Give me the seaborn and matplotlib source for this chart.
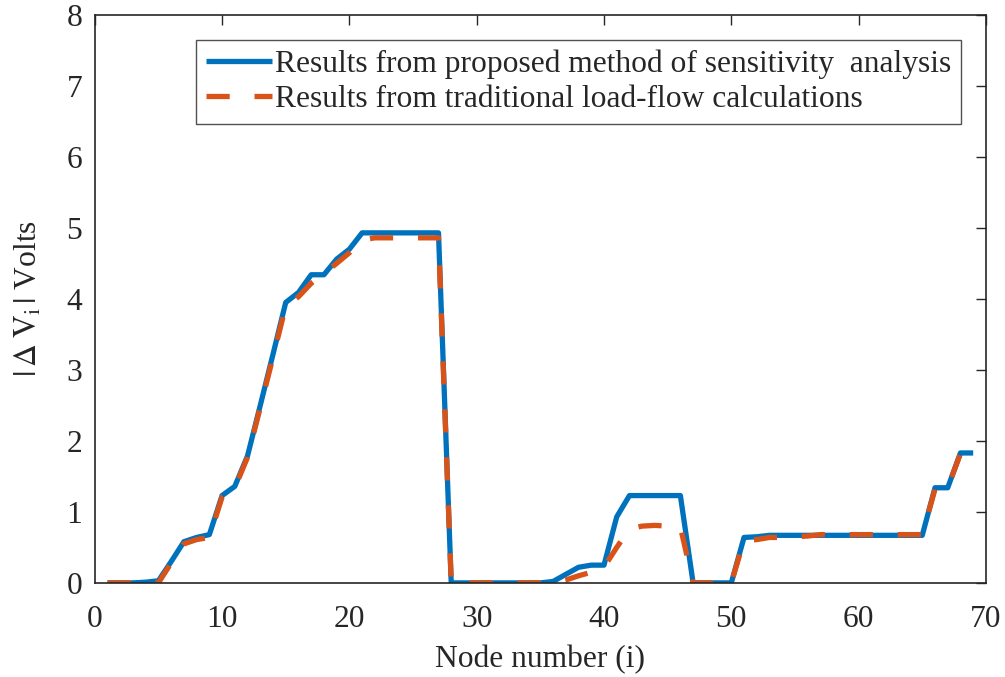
import numpy as np
import pandas as pd
import matplotlib
matplotlib.use("Agg")
import matplotlib.pyplot as plt
import seaborn as sns

# node numbers and |dV| values
nodes = list(range(1, 70))
proposed = [0, 0, 0, 0.01, 0.03, 0.30, 0.58, 0.64, 0.68, 1.23,
            1.36, 1.79, 2.50, 3.22, 3.95, 4.09, 4.34, 4.34, 4.56, 4.70,
            4.93, 4.93, 4.93, 4.93, 4.93, 4.93, 4.93, 0, 0, 0,
            0, 0, 0, 0, 0, 0.02, 0.12, 0.22, 0.25, 0.25,
            0.93, 1.23, 1.23, 1.23, 1.23, 1.23, 0, 0, 0, 0,
            0.64, 0.65, 0.67, 0.67, 0.67, 0.67, 0.67, 0.67, 0.67, 0.67,
            0.67, 0.67, 0.67, 0.67, 0.67, 1.34, 1.34, 1.83, 1.83]
traditional = [0, 0, 0, 0, 0, 0.28, 0.55, 0.61, 0.64, 1.21,
               1.34, 1.77, 2.47, 3.18, 3.90, 4.03, 4.22, 4.36, 4.50, 4.65,
               4.83, 4.86, 4.86, 4.86, 4.86, 4.86, 4.86, 0, 0, 0,
               0, 0, 0, 0, 0, 0, 0.04, 0.10, 0.15, 0.22,
               0.50, 0.76, 0.80, 0.81, 0.80, 0.79, 0, 0, 0, 0,
               0.60, 0.61, 0.64, 0.64, 0.65, 0.66, 0.68, 0.68, 0.68, 0.68,
               0.68, 0.68, 0.68, 0.68, 0.68, 1.32, 1.34, 1.82, 1.82]
lbl_prop = "Results from proposed method of sensitivity  analysis"
lbl_trad = "Results from traditional load-flow calculations"

df = pd.DataFrame({"node": nodes, "prop": proposed, "trad": traditional})

sns.set_style("white")
plt.rcParams["font.family"] = ["Liberation Serif", "DejaVu Serif"]
plt.rcParams["mathtext.fontset"] = "stix"

fs = 22.7
fig = plt.figure(figsize=(10.05, 6.77), dpi=100)
ax = fig.add_axes([0.0943, 0.139, 0.8867, 0.839])

sns.lineplot(data=df, x="node", y="prop", ax=ax, color="#0072BD", lw=3.8,
             label=lbl_prop, solid_joinstyle="round", solid_capstyle="butt")
sns.lineplot(data=df, x="node", y="trad", ax=ax, color="#D95319", lw=3.8,
             label=lbl_trad, dashes=False)
ax.lines[1].set_dashes((4.4, 4.7))

ax.set_xlim(0, 70)
ax.set_ylim(0, 8)
ax.set_xticks(range(0, 71, 10))
ax.set_yticks(range(0, 9))
ax.tick_params(direction="in", length=7.5, width=1, colors="#262626",
               labelsize=fs, top=True, right=True)
ax.tick_params(axis="x", pad=16)
ax.tick_params(axis="y", pad=9)
for s in ax.spines.values():
    s.set_color("#262626")
    s.set_linewidth(1.2)

ax.set_xlabel("Node number (i)", fontsize=fs, color="#262626", labelpad=8)
ax.set_ylabel(r"$|\,\Delta\;\mathrm{V}_{\mathrm{i}}\,|$ Volts", fontsize=fs,
              color="#262626", labelpad=16)

leg = ax.legend(loc="upper right", fontsize=fs, frameon=True, fancybox=False,
                edgecolor="#262626", borderaxespad=0.8, handlelength=2.1,
                handletextpad=0.1, labelspacing=0.2, borderpad=0.3)
leg.get_frame().set_linewidth(1.0)

fig.savefig("out.png", dpi=100)
